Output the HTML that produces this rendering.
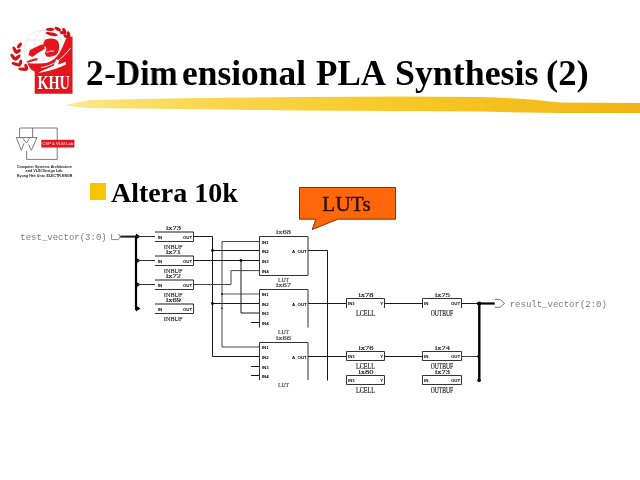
<!DOCTYPE html>
<html><head><meta charset="utf-8">
<style>
html,body{margin:0;padding:0;background:#fff;}
body{width:640px;height:480px;overflow:hidden;position:relative;font-family:"Liberation Sans",sans-serif;}
.abs{position:absolute;}
#title{position:absolute;left:87px;top:54px;font-family:"Liberation Serif",serif;font-weight:bold;font-size:35px;line-height:40px;color:#000;white-space:nowrap;}
#bullet{position:absolute;left:90px;top:183px;width:16px;height:16.5px;background:#f9c300;}
#altera{position:absolute;left:111px;top:176.7px;font-family:"Liberation Serif",serif;font-weight:bold;font-size:28px;line-height:32px;color:#000;white-space:nowrap;}
svg{position:absolute;left:0;top:0;overflow:visible;}
#title span{position:absolute;top:0;display:block;transform-origin:0 0;}
#title span,#altera,svg{will-change:transform;}
</style></head>
<body>
<!-- brush stroke -->
<svg width="640" height="480" viewBox="0 0 640 480">
  <defs>
    <linearGradient id="br" x1="64" x2="640" y1="0" y2="0" gradientUnits="userSpaceOnUse">
      <stop offset="0" stop-color="#fcea9c"/>
      <stop offset="0.12" stop-color="#fade66"/>
      <stop offset="0.3" stop-color="#f8d448"/>
      <stop offset="0.55" stop-color="#f7ca2a"/>
      <stop offset="0.8" stop-color="#f4be1c"/>
      <stop offset="1" stop-color="#f1b414"/>
    </linearGradient>
  </defs>
  <path d="M64.5,105.3 C72,103.5 82,101.5 90,100 L140,99 L200,98 L300,97 L400,96.5 L480,97 C510,98 530,99 545,101 L560,102.5 L640,103 L640,113 L560,113 L480,111.6 L400,111 L300,110.5 L200,109.2 L140,108.4 L90,108.2 C80,107.5 72,106.5 64.5,105.3 Z" fill="url(#br)"/>
</svg>

<!-- KHU logo -->
<svg width="640" height="480" viewBox="0 0 640 480">
  <g fill="none" stroke="#dcdcdc" stroke-width="0.6">
    <circle cx="44" cy="50" r="20"/>
    <ellipse cx="44" cy="50" rx="10" ry="20"/>
    <line x1="24" y1="50" x2="64" y2="50"/>
    <line x1="26.5" y1="40" x2="61.5" y2="40"/>
    <line x1="26.5" y1="60" x2="61.5" y2="60"/>
    <line x1="44" y1="30" x2="44" y2="70"/>
  </g>
  <g fill="#e5151d">
    <path d="M65.8,39 L68.5,37 L72.5,36.5 L72.5,93.8 L34.7,93.8 L34.7,71.5 C32,70.5 30,68.5 29,66.5 L27.5,63.3 C31,63.4 38,63.8 44,63.3 C50,62.6 54.5,59.5 58,55 C61,51 63.5,45 65.8,39 Z"/>
    <path d="M45.5,39.5 C50,37.8 55,38.2 57.8,41 C59.8,44 59.6,50.5 57.4,53.6 C55,56.6 50,57.4 46.2,56.2 L44.8,53 C46.5,51.5 47,48.5 45.6,46.8 L43,46.4 C43.2,43.4 44,40.8 45.5,39.5 Z"/>
    <path d="M28.5,55 L29.8,50.2 C34,47.8 38,45.8 42.6,44.2 L45,48.6 C41,51 36.5,54 32.2,57 Z"/>
    <path d="M26.5,61.8 C30,59.6 34,58.4 37.8,58 L37.2,60.2 C34,60.8 30,61.9 27,62.8 Z"/>
  </g><g fill="#d40f18"><ellipse cx="19.40" cy="45.50" rx="3.36" ry="1.65" transform="rotate(-51.3 19.40 45.50)"/><ellipse cx="14.85" cy="50.05" rx="3.86" ry="1.65" transform="rotate(63.9 14.85 50.05)"/><ellipse cx="18.10" cy="51.35" rx="3.19" ry="1.65" transform="rotate(-37.3 18.10 51.35)"/><ellipse cx="13.30" cy="57.15" rx="4.04" ry="1.65" transform="rotate(51.9 13.30 57.15)"/><ellipse cx="17.50" cy="57.50" rx="3.91" ry="1.65" transform="rotate(-45.0 17.50 57.50)"/><ellipse cx="15.95" cy="64.25" rx="4.56" ry="1.65" transform="rotate(19.4 15.95 64.25)"/><ellipse cx="20.30" cy="62.95" rx="3.47" ry="1.65" transform="rotate(-72.6 20.30 62.95)"/><ellipse cx="23.00" cy="69.15" rx="4.82" ry="1.65" transform="rotate(5.0 23.00 69.15)"/><ellipse cx="26.25" cy="67.00" rx="3.41" ry="1.65" transform="rotate(-106.7 26.25 67.00)"/><ellipse cx="50.25" cy="29.30" rx="4.25" ry="1.65" transform="rotate(0.0 50.25 29.30)"/><ellipse cx="57.70" cy="29.05" rx="3.55" ry="1.65" transform="rotate(29.4 57.70 29.05)"/><ellipse cx="51.60" cy="34.10" rx="6.21" ry="1.65" transform="rotate(11.7 51.60 34.10)"/><ellipse cx="63.00" cy="32.75" rx="3.26" ry="1.65" transform="rotate(12.9 63.00 32.75)"/><ellipse cx="64.35" cy="31.05" rx="3.28" ry="1.65" transform="rotate(65.0 64.35 31.05)"/><ellipse cx="66.70" cy="36.60" rx="3.48" ry="1.65" transform="rotate(26.6 66.70 36.60)"/><ellipse cx="68.60" cy="34.90" rx="3.74" ry="1.65" transform="rotate(80.2 68.60 34.90)"/>
  </g>
  <path d="M46.5,52.6 C49,51.2 51.5,50.8 54,51.2" fill="none" stroke="#fff" stroke-width="0.9"/>
  <path d="M41,67.5 C52,66 62,59.5 70.5,48" fill="none" stroke="#fff" stroke-width="0.9"/>
  <path d="M38,72.8 C43.5,70.2 49,67.6 53.6,65.8 L56.2,59.6 L59.2,60.2 L58,64.6 C60.6,63.8 63,62.8 65.6,61.8 L66,64.6 C62.4,66.4 58.4,67.8 54.8,69 C49.6,70.6 44,72.2 38,72.8 Z" fill="#fff"/>
  <text x="53.6" y="89.4" text-anchor="middle" font-family="Liberation Serif" font-weight="bold" font-size="18.5" fill="#fff" transform="translate(53.6 0) scale(0.77 1) translate(-53.6 0)">KHU</text>
</svg>

<div id="title"><span style="left:-1.5px;letter-spacing:0.8px">2-</span><span style="left:28.8px;transform:scaleX(0.96)">Dim</span><span style="left:95px;transform:scaleX(1.012)">ensional</span><span style="left:228.7px;transform:scaleX(0.995)">PLA</span><span style="left:308px;transform:scaleX(1.024)">Synthesis</span><span style="left:459px;transform:scaleX(1.05)">(2)</span></div>

<!-- small logo -->
<svg width="640" height="480" viewBox="0 0 640 480">
  <g fill="none" stroke="#666" stroke-width="0.85">
    <path d="M19.6,137.5 L19.6,128 L57.2,128 L57.2,159.4 L26.6,159.4 L26.6,151"/>
    <line x1="32.6" y1="128" x2="32.6" y2="137.5"/>
    <path d="M16.3,137.5 L37.3,137.5 M16.3,137.5 L21.3,150.3 M36.8,137.8 L31.4,150.3 M22.5,138 L26.6,143 L29.5,138 M21.3,150.3 L24,143.5 M31.4,150.3 L28.5,144.5"/>
  </g>
  <rect x="41.3" y="139.8" width="33.1" height="7.7" fill="#e3141b"/>
  <text x="57.8" y="145.4" text-anchor="middle" font-family="Liberation Sans" font-size="4.2" fill="#fff">CSP &amp; VLSI Lab</text>
  <g font-family="Liberation Sans" font-size="4.3" font-weight="bold" fill="#222">
    <text x="16.9" y="168" textLength="55" lengthAdjust="spacingAndGlyphs">Computer Systems Architecture</text>
    <text x="25.6" y="172.2" textLength="37" lengthAdjust="spacingAndGlyphs">and VLSI Design Lab</text>
    <text x="16.9" y="176.5" textLength="55.6" lengthAdjust="spacingAndGlyphs">Kyung Hee Univ. ELECTR.ENGR</text>
  </g>
</svg>

<div id="bullet"></div>
<div id="altera">Altera 10k</div>

<!-- callout -->
<svg width="640" height="480" viewBox="0 0 640 480">
  <path d="M299.5,187.5 L395.5,187.5 L395.5,219.2 L338,219.2 L312.2,229.6 L315.8,219.2 L299.5,219.2 Z" fill="#ff680a" stroke="#6a2800" stroke-width="0.9"/>
  <text x="322.3" y="210.6" font-family="Liberation Serif" font-size="21" fill="#301000" stroke="#301000" stroke-width="0.45" textLength="48.4" lengthAdjust="spacing">LUTs</text>
</svg>

<!-- circuit -->
<svg id="ckt" width="640" height="480" viewBox="0 0 640 480">
<text x="20.3" y="239.5" font-family="Liberation Mono" font-size="9" fill="#7a7a7a" text-anchor="start" >test_vector(3:0)</text>
<polyline points="118.6,234.1 120.3,236.75 118.4,239.6 111.6,239.6 111.6,234" fill="none" stroke="#777" stroke-width="0.9"/>
<line x1="120.3" y1="236.6" x2="136" y2="236.6" stroke="#1a1a1a" stroke-width="2"/>
<line x1="136" y1="235.5" x2="136" y2="310.2" stroke="#000" stroke-width="2.2"/>
<path d="M136,233.5 L140.5,236.5 L136,239.5 Z" fill="#000"/>
<path d="M136,257.5 L140.5,260.5 L136,263.5 Z" fill="#000"/>
<path d="M136,281.5 L140.5,284.5 L136,287.5 Z" fill="#000"/>
<path d="M136,305.5 L140.5,308.5 L136,311.5 Z" fill="#000"/>
<line x1="137" y1="236.5" x2="155" y2="236.5" stroke="#333" stroke-width="1"/>
<line x1="137" y1="260.5" x2="155" y2="260.5" stroke="#333" stroke-width="1"/>
<line x1="137" y1="284.5" x2="155" y2="284.5" stroke="#333" stroke-width="1"/>
<line x1="155" y1="232" x2="193.5" y2="232" stroke="#666" stroke-width="1.4"/>
<line x1="155" y1="241.5" x2="193.5" y2="241.5" stroke="#333" stroke-width="1"/>
<line x1="193.5" y1="232" x2="193.5" y2="241.5" stroke="#333" stroke-width="1"/>
<text x="165.90" y="230.1" font-family="Liberation Serif" font-size="6.62" fill="#222" stroke="#222" stroke-width="0.18" textLength="15.00" lengthAdjust="spacingAndGlyphs">ix73</text>
<text x="163.82" y="248.9" font-family="Liberation Serif" font-size="6.93" fill="#333" stroke="#333" stroke-width="0.18" textLength="18.75" lengthAdjust="spacingAndGlyphs">INBUF</text>
<text x="157.8" y="238.55" font-family="Liberation Sans" font-weight="bold" font-size="4.4" fill="#000" text-anchor="start">IN</text>
<text x="192.2" y="238.55" font-family="Liberation Sans" font-weight="bold" font-size="4.4" fill="#000" text-anchor="end">OUT</text>
<line x1="155" y1="256" x2="193.5" y2="256" stroke="#666" stroke-width="1.4"/>
<line x1="155" y1="265.5" x2="193.5" y2="265.5" stroke="#333" stroke-width="1"/>
<line x1="193.5" y1="256" x2="193.5" y2="265.5" stroke="#333" stroke-width="1"/>
<text x="165.90" y="254.1" font-family="Liberation Serif" font-size="6.62" fill="#222" stroke="#222" stroke-width="0.18" textLength="15.00" lengthAdjust="spacingAndGlyphs">ix71</text>
<text x="163.82" y="272.9" font-family="Liberation Serif" font-size="6.93" fill="#333" stroke="#333" stroke-width="0.18" textLength="18.75" lengthAdjust="spacingAndGlyphs">INBUF</text>
<text x="157.8" y="262.55" font-family="Liberation Sans" font-weight="bold" font-size="4.4" fill="#000" text-anchor="start">IN</text>
<text x="192.2" y="262.55" font-family="Liberation Sans" font-weight="bold" font-size="4.4" fill="#000" text-anchor="end">OUT</text>
<line x1="155" y1="280" x2="193.5" y2="280" stroke="#666" stroke-width="1.4"/>
<line x1="155" y1="289.5" x2="193.5" y2="289.5" stroke="#333" stroke-width="1"/>
<line x1="193.5" y1="280" x2="193.5" y2="289.5" stroke="#333" stroke-width="1"/>
<text x="165.90" y="278.1" font-family="Liberation Serif" font-size="6.62" fill="#222" stroke="#222" stroke-width="0.18" textLength="15.00" lengthAdjust="spacingAndGlyphs">ix72</text>
<text x="163.82" y="296.9" font-family="Liberation Serif" font-size="6.93" fill="#333" stroke="#333" stroke-width="0.18" textLength="18.75" lengthAdjust="spacingAndGlyphs">INBUF</text>
<text x="157.8" y="286.55" font-family="Liberation Sans" font-weight="bold" font-size="4.4" fill="#000" text-anchor="start">IN</text>
<text x="192.2" y="286.55" font-family="Liberation Sans" font-weight="bold" font-size="4.4" fill="#000" text-anchor="end">OUT</text>
<line x1="155" y1="304" x2="193.5" y2="304" stroke="#666" stroke-width="1.4"/>
<line x1="155" y1="313.5" x2="193.5" y2="313.5" stroke="#333" stroke-width="1"/>
<line x1="193.5" y1="304" x2="193.5" y2="313.5" stroke="#333" stroke-width="1"/>
<text x="165.90" y="302.1" font-family="Liberation Serif" font-size="6.62" fill="#222" stroke="#222" stroke-width="0.18" textLength="15.00" lengthAdjust="spacingAndGlyphs">ix69</text>
<text x="163.82" y="320.9" font-family="Liberation Serif" font-size="6.93" fill="#333" stroke="#333" stroke-width="0.18" textLength="18.75" lengthAdjust="spacingAndGlyphs">INBUF</text>
<text x="157.8" y="310.55" font-family="Liberation Sans" font-weight="bold" font-size="4.4" fill="#000" text-anchor="start">IN</text>
<text x="192.2" y="310.55" font-family="Liberation Sans" font-weight="bold" font-size="4.4" fill="#000" text-anchor="end">OUT</text>
<polyline points="193.5,236.5 212.5,236.5 212.5,356.5 259.5,356.5" fill="none" stroke="#1a1a1a" stroke-width="1"/>
<circle cx="212.5" cy="250.5" r="1.4" fill="#111"/>
<line x1="212.5" y1="250.5" x2="259.5" y2="250.5" stroke="#1a1a1a" stroke-width="1"/>
<circle cx="212.5" cy="303.5" r="1.4" fill="#111"/>
<line x1="212.5" y1="303.5" x2="259.5" y2="303.5" stroke="#1a1a1a" stroke-width="1"/>
<polyline points="259.5,241.5 222,241.5 222,347 259.5,347" fill="none" stroke="#444" stroke-width="1"/>
<circle cx="222" cy="294" r="1.1" fill="#111"/>
<line x1="222" y1="294" x2="259.5" y2="294" stroke="#555" stroke-width="1.2"/>
<circle cx="222" cy="308.3" r="0.8" fill="#111"/>
<line x1="193.5" y1="260.5" x2="259.5" y2="260.5" stroke="#1a1a1a" stroke-width="1"/>
<circle cx="241" cy="260.5" r="1.4" fill="#111"/>
<polyline points="241,260.5 241,313 259.5,313" fill="none" stroke="#1a1a1a" stroke-width="1"/>
<polyline points="193.5,284.5 231,284.5 231,270.6 259.5,270.6" fill="none" stroke="#444" stroke-width="1"/>
<polyline points="259.5,275.5 259.5,236.5 308,236.5 308,275.5" fill="none" stroke="#333" stroke-width="1"/>
<line x1="259.5" y1="275.5" x2="308" y2="275.5" stroke="#333" stroke-width="1"/>
<text x="276.00" y="233.9" font-family="Liberation Serif" font-size="6.09" fill="#444" stroke="#444" stroke-width="0.18" textLength="15.00" lengthAdjust="spacingAndGlyphs">ix68</text>
<text x="261.9" y="243.5" font-family="Liberation Sans" font-weight="bold" font-size="4.4" fill="#000" text-anchor="start">IN1</text>
<text x="261.9" y="252.5" font-family="Liberation Sans" font-weight="bold" font-size="4.4" fill="#000" text-anchor="start">IN2</text>
<text x="261.9" y="262.5" font-family="Liberation Sans" font-weight="bold" font-size="4.4" fill="#000" text-anchor="start">IN3</text>
<text x="261.9" y="272.6" font-family="Liberation Sans" font-weight="bold" font-size="4.4" fill="#000" text-anchor="start">IN4</text>
<text x="306.8" y="252.5" font-family="Liberation Sans" font-weight="bold" font-size="4.4" fill="#000" text-anchor="end">A_OUT</text>
<text x="277.88" y="282.0" font-family="Liberation Serif" font-size="6.61" fill="#444" stroke="#444" stroke-width="0.18" textLength="11.25" lengthAdjust="spacingAndGlyphs">LUT</text>
<polyline points="259.5,327.5 259.5,289.5 308,289.5 308,327.5" fill="none" stroke="#333" stroke-width="1"/>
<text x="276.00" y="286.9" font-family="Liberation Serif" font-size="6.09" fill="#444" stroke="#444" stroke-width="0.18" textLength="15.00" lengthAdjust="spacingAndGlyphs">ix67</text>
<text x="261.9" y="296.0" font-family="Liberation Sans" font-weight="bold" font-size="4.4" fill="#000" text-anchor="start">IN1</text>
<text x="261.9" y="305.5" font-family="Liberation Sans" font-weight="bold" font-size="4.4" fill="#000" text-anchor="start">IN2</text>
<text x="261.9" y="315.0" font-family="Liberation Sans" font-weight="bold" font-size="4.4" fill="#000" text-anchor="start">IN3</text>
<text x="261.9" y="324.5" font-family="Liberation Sans" font-weight="bold" font-size="4.4" fill="#000" text-anchor="start">IN4</text>
<text x="306.8" y="305.5" font-family="Liberation Sans" font-weight="bold" font-size="4.4" fill="#000" text-anchor="end">A_OUT</text>
<text x="277.88" y="334.0" font-family="Liberation Serif" font-size="6.61" fill="#444" stroke="#444" stroke-width="0.18" textLength="11.25" lengthAdjust="spacingAndGlyphs">LUT</text>
<polyline points="259.5,380 259.5,342.5 308,342.5 308,380" fill="none" stroke="#333" stroke-width="1"/>
<text x="276.00" y="339.9" font-family="Liberation Serif" font-size="6.09" fill="#444" stroke="#444" stroke-width="0.18" textLength="15.00" lengthAdjust="spacingAndGlyphs">ix66</text>
<text x="261.9" y="349.0" font-family="Liberation Sans" font-weight="bold" font-size="4.4" fill="#000" text-anchor="start">IN1</text>
<text x="261.9" y="358.5" font-family="Liberation Sans" font-weight="bold" font-size="4.4" fill="#000" text-anchor="start">IN2</text>
<text x="261.9" y="368.5" font-family="Liberation Sans" font-weight="bold" font-size="4.4" fill="#000" text-anchor="start">IN3</text>
<text x="261.9" y="377.5" font-family="Liberation Sans" font-weight="bold" font-size="4.4" fill="#000" text-anchor="start">IN4</text>
<text x="306.8" y="358.5" font-family="Liberation Sans" font-weight="bold" font-size="4.4" fill="#000" text-anchor="end">A_OUT</text>
<text x="277.88" y="386.5" font-family="Liberation Serif" font-size="6.61" fill="#444" stroke="#444" stroke-width="0.18" textLength="11.25" lengthAdjust="spacingAndGlyphs">LUT</text>
<line x1="251" y1="322.5" x2="259.5" y2="322.5" stroke="#1a1a1a" stroke-width="1"/>
<line x1="251" y1="366.5" x2="259.5" y2="366.5" stroke="#1a1a1a" stroke-width="1"/>
<line x1="251" y1="375.5" x2="259.5" y2="375.5" stroke="#1a1a1a" stroke-width="1"/>
<polyline points="308,250.5 327.5,250.5 327.5,380.5" fill="none" stroke="#1a1a1a" stroke-width="1"/>
<line x1="308" y1="303.5" x2="346.5" y2="303.5" stroke="#1a1a1a" stroke-width="1"/>
<line x1="308" y1="356.5" x2="346.5" y2="356.5" stroke="#1a1a1a" stroke-width="1"/>
<polyline points="346.5,308 346.5,298.5 384.5,298.5 384.5,308" fill="none" stroke="#333" stroke-width="1"/>
<text x="358.50" y="297.0" font-family="Liberation Serif" font-size="6.72" fill="#222" stroke="#222" stroke-width="0.18" textLength="15.00" lengthAdjust="spacingAndGlyphs">ix78</text>
<text x="356.12" y="316.4" font-family="Liberation Serif" font-size="7.30" fill="#222" stroke="#222" stroke-width="0.18" textLength="18.75" lengthAdjust="spacingAndGlyphs">LCELL</text>
<text x="348.1" y="305.3" font-family="Liberation Sans" font-weight="bold" font-size="4.4" fill="#000" text-anchor="start">IN1</text>
<text x="383.2" y="305.3" font-family="Liberation Sans" font-weight="bold" font-size="4.4" fill="#000" text-anchor="end">Y</text>
<polyline points="422.5,308 422.5,298.5 461.5,298.5 461.5,308" fill="none" stroke="#333" stroke-width="1"/>
<text x="435.00" y="297.0" font-family="Liberation Serif" font-size="6.72" fill="#222" stroke="#222" stroke-width="0.18" textLength="15.00" lengthAdjust="spacingAndGlyphs">ix75</text>
<text x="430.75" y="316.4" font-family="Liberation Serif" font-size="7.30" fill="#222" stroke="#222" stroke-width="0.18" textLength="22.50" lengthAdjust="spacingAndGlyphs">OUTBUF</text>
<text x="424.1" y="305.3" font-family="Liberation Sans" font-weight="bold" font-size="4.4" fill="#000" text-anchor="start">IN</text>
<text x="460.2" y="305.3" font-family="Liberation Sans" font-weight="bold" font-size="4.4" fill="#000" text-anchor="end">OUT</text>
<line x1="384.5" y1="303.5" x2="422.5" y2="303.5" stroke="#1a1a1a" stroke-width="1"/>
<polyline points="346.5,360.5 346.5,351.5 384.5,351.5 384.5,360.5" fill="none" stroke="#333" stroke-width="1"/>
<line x1="346.5" y1="360.5" x2="384.5" y2="360.5" stroke="#333" stroke-width="1"/>
<text x="358.50" y="350.0" font-family="Liberation Serif" font-size="6.72" fill="#222" stroke="#222" stroke-width="0.18" textLength="15.00" lengthAdjust="spacingAndGlyphs">ix76</text>
<text x="356.12" y="368.6" font-family="Liberation Serif" font-size="7.30" fill="#222" stroke="#222" stroke-width="0.18" textLength="18.75" lengthAdjust="spacingAndGlyphs">LCELL</text>
<text x="348.1" y="358.3" font-family="Liberation Sans" font-weight="bold" font-size="4.4" fill="#000" text-anchor="start">IN1</text>
<text x="383.2" y="358.3" font-family="Liberation Sans" font-weight="bold" font-size="4.4" fill="#000" text-anchor="end">Y</text>
<polyline points="422.5,360.5 422.5,351.5 461.5,351.5 461.5,360.5" fill="none" stroke="#333" stroke-width="1"/>
<line x1="422.5" y1="360.5" x2="461.5" y2="360.5" stroke="#333" stroke-width="1"/>
<text x="435.00" y="350.0" font-family="Liberation Serif" font-size="6.72" fill="#222" stroke="#222" stroke-width="0.18" textLength="15.00" lengthAdjust="spacingAndGlyphs">ix74</text>
<text x="430.75" y="368.6" font-family="Liberation Serif" font-size="7.30" fill="#222" stroke="#222" stroke-width="0.18" textLength="22.50" lengthAdjust="spacingAndGlyphs">OUTBUF</text>
<text x="424.1" y="358.3" font-family="Liberation Sans" font-weight="bold" font-size="4.4" fill="#000" text-anchor="start">IN</text>
<text x="460.2" y="358.3" font-family="Liberation Sans" font-weight="bold" font-size="4.4" fill="#000" text-anchor="end">OUT</text>
<line x1="384.5" y1="356.5" x2="422.5" y2="356.5" stroke="#1a1a1a" stroke-width="1"/>
<polyline points="346.5,384.5 346.5,375.5 384.5,375.5 384.5,384.5" fill="none" stroke="#333" stroke-width="1"/>
<line x1="346.5" y1="384.5" x2="384.5" y2="384.5" stroke="#333" stroke-width="1"/>
<text x="358.50" y="374.0" font-family="Liberation Serif" font-size="6.72" fill="#222" stroke="#222" stroke-width="0.18" textLength="15.00" lengthAdjust="spacingAndGlyphs">ix80</text>
<text x="356.12" y="392.6" font-family="Liberation Serif" font-size="7.30" fill="#222" stroke="#222" stroke-width="0.18" textLength="18.75" lengthAdjust="spacingAndGlyphs">LCELL</text>
<text x="348.1" y="381.8" font-family="Liberation Sans" font-weight="bold" font-size="4.4" fill="#000" text-anchor="start">IN1</text>
<text x="383.2" y="381.8" font-family="Liberation Sans" font-weight="bold" font-size="4.4" fill="#000" text-anchor="end">Y</text>
<polyline points="422.5,384.5 422.5,375.5 461.5,375.5 461.5,384.5" fill="none" stroke="#333" stroke-width="1"/>
<line x1="422.5" y1="384.5" x2="461.5" y2="384.5" stroke="#333" stroke-width="1"/>
<text x="435.00" y="374.0" font-family="Liberation Serif" font-size="6.72" fill="#222" stroke="#222" stroke-width="0.18" textLength="15.00" lengthAdjust="spacingAndGlyphs">ix73</text>
<text x="430.75" y="392.6" font-family="Liberation Serif" font-size="7.30" fill="#222" stroke="#222" stroke-width="0.18" textLength="22.50" lengthAdjust="spacingAndGlyphs">OUTBUF</text>
<text x="424.1" y="381.8" font-family="Liberation Sans" font-weight="bold" font-size="4.4" fill="#000" text-anchor="start">IN</text>
<text x="460.2" y="381.8" font-family="Liberation Sans" font-weight="bold" font-size="4.4" fill="#000" text-anchor="end">OUT</text>
<line x1="461.5" y1="303.5" x2="479" y2="303.5" stroke="#1a1a1a" stroke-width="1"/>
<line x1="461.5" y1="356.5" x2="479" y2="356.5" stroke="#444" stroke-width="1"/>
<line x1="479.3" y1="302.5" x2="479.3" y2="381.5" stroke="#000" stroke-width="2.4"/>
<circle cx="479.3" cy="303.5" r="2" fill="#111"/>
<line x1="477" y1="303.5" x2="494.7" y2="303.5" stroke="#000" stroke-width="2.2"/>
<path d="M479.3,354 L476.5,356.5 L479.3,359 Z" fill="#000"/>
<circle cx="479" cy="380.3" r="1.7" fill="#000"/>
<polyline points="494.7,299.4 500,299.4 504.5,303.4 500,307.3 494.7,307.3" fill="none" stroke="#666" stroke-width="0.9"/>
<text x="509.7" y="307.2" font-family="Liberation Mono" font-size="9" fill="#7a7a7a" text-anchor="start" >result_vector(2:0)</text>
</svg>
</body></html>
